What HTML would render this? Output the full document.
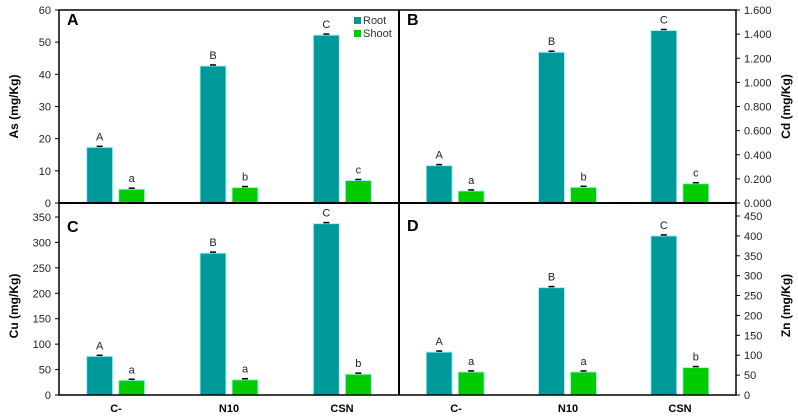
<!DOCTYPE html>
<html><head><meta charset="utf-8"><style>
body{margin:0;background:#fff;}
svg{display:block;font-family:"Liberation Sans",sans-serif;}
</style></head><body>
<svg id="c" width="798" height="419"></svg>
<script>
const categories=["C-","N10","CSN"];
const asRoot=[17.3,42.6,52.2], asShoot=[4.3,4.8,7.0];
const cdRoot=[0.31,1.25,1.43], cdShoot=[0.10,0.13,0.16];
const cuRoot=[76,279,337], cuShoot=[29,30,41];
const znRoot=[108,270,400], znShoot=[58,58,69];
const asTicks=[0,10,20,30,40,50,60];
const cdTicks=[0,0.2,0.4,0.6,0.8,1.0,1.2,1.4,1.6];
const cuTicks=[0,50,100,150,200,250,300,350];
const znTicks=[0,50,100,150,200,250,300,350,400,450];
const asLetters=[["A","a"],["B","b"],["C","c"]];
const cdLetters=[["A","a"],["B","b"],["C","c"]];
const cuLetters=[["A","a"],["B","a"],["C","b"]];
const znLetters=[["A","a"],["B","a"],["C","b"]];
const NS="http://www.w3.org/2000/svg";
const svg=document.getElementById('c');
function el(t,a,txt){const e=document.createElementNS(NS,t);for(const k in a)e.setAttribute(k,a[k]);if(txt!==undefined)e.textContent=txt;svg.appendChild(e);return e;}
function panel(key,x0,x1,yTop,yBot,max,ticks,fmt,side,title,root,shoot,letters){
  const y=v=>yBot-(v/max)*(yBot-yTop);
  const gw=(x1-x0)/3;
  const ax=side==='left'?x0:x1;
  ticks.forEach(t=>{
    const ln=el('line',{x1:ax,x2:side==='left'?ax-4:ax+4,y1:y(t),y2:y(t),stroke:'#000'});
    
    const tx=el('text',{x:side==='left'?ax-8:ax+8,y:y(t)+4,'font-size':11,'text-anchor':side==='left'?'end':'start',fill:'#222'},fmt(t));
    
  });
  const tx=side==='left'?18:790, ty=(yTop+yBot)/2;
  const tt=el('text',{x:tx,y:ty,'font-size':12,'font-weight':'bold','text-anchor':'middle',transform:`rotate(-90 ${tx} ${ty})`},title);
  
  const pl=el('text',{x:x0+8,y:yTop+15,'font-size':16,'font-weight':'bold'},key.toUpperCase());
  
  categories.forEach((c,i)=>{
    const cx=x0+gw*(i+0.5);
    [[root[i],'#009999',cx-29,letters[i][0]],[shoot[i],'#00cc00',cx+3,letters[i][1]]].forEach(([v,col,bx,lt],j)=>{
      const b=el('rect',{x:bx,y:y(v),width:26,height:yBot-y(v),fill:col,stroke:'#aef',"stroke-width":1});
      
      const e=el('line',{x1:bx+10,x2:bx+16,y1:y(v)-1,y2:y(v)-1,stroke:'#000','stroke-width':1.5});
      
      const l=el('text',{x:bx+13,y:y(v)-7,'font-size':11,'text-anchor':'middle',fill:'#222'},lt);
      
    });
  });
}
panel('a',59,399,10,203,60,asTicks,t=>t,'left','As (mg/Kg)',asRoot,asShoot,asLetters);
panel('b',399,736,10,203,1.6,cdTicks,t=>t.toFixed(3),'right','Cd (mg/Kg)',cdRoot,cdShoot,cdLetters);
panel('c',59,399,217,395,350,cuTicks,t=>t,'left','Cu (mg/Kg)',cuRoot,cuShoot,cuLetters);
panel('d',399,736,216,395,450,znTicks,t=>t,'right','Zn (mg/Kg)',znRoot,znShoot,znLetters);
const fr=el('rect',{x:59,y:10,width:677,height:385,fill:'none',stroke:'#000','stroke-width':1.5});

const v=el('line',{x1:399,x2:399,y1:10,y2:395,stroke:'#000','stroke-width':2});

const h=el('line',{x1:59,x2:736,y1:203,y2:203,stroke:'#000','stroke-width':2});

categories.forEach((c,i)=>{
  [116+113*i,456+112*i].forEach(x=>{
    const t=el('text',{x:x,y:412,'font-size':11,'font-weight':'bold','text-anchor':'middle'},c);
    
  });
});
[['Root','#009999',17],['Shoot','#00cc00',30]].forEach(([n,c,yy])=>{
  const r=el('rect',{x:354,y:yy,width:7,height:7,fill:c});
  
  const t=el('text',{x:363,y:yy+7,'font-size':11,fill:'#333'},n);
  
});
</script>
</body></html>
